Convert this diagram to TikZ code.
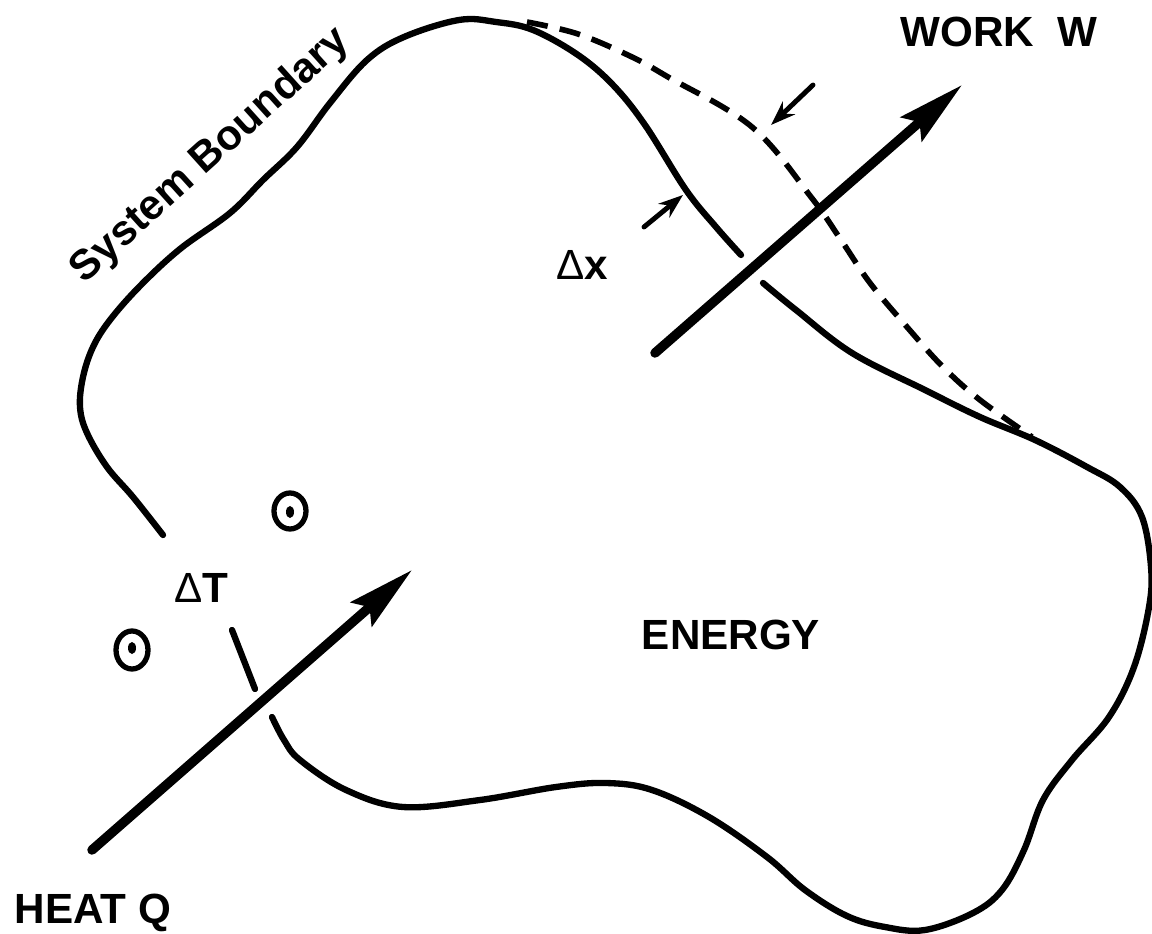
\documentclass[tikz,border=0pt]{standalone}
\usepackage{fontspec}
\setmainfont{Liberation Sans}
\usetikzlibrary{arrows.meta}
\tikzset{
  bnd/.style={line width=1.8pt, line cap=round},
  moved/.style={line width=1.6pt, dash pattern=on 6pt off 3.5pt},
  flow/.style={line width=2.7pt, line cap=round, -{Stealth[length=19pt, width=9pt, inset=3pt]}},
  dxarrow/.style={line width=1.4pt, line cap=round, -{Stealth[length=7pt, width=5pt]}},
  probe/.style={line width=1.5pt},
  lbl/.style={font=\fontsize{12}{14}\selectfont\bfseries, anchor=base}
}
\begin{document}
\begin{tikzpicture}[x=0.01cm, y=-0.01cm]
  \useasboundingbox (0,0) rectangle (1152,934);
  % system boundary, upper part
  \draw[bnd] plot[smooth, tension=0.6] coordinates {(163,535) (133,497) (107,467) (87,433)
    (80,407) (83,377) (93,347) (110,320) (140,286) (180,249) (230,213) (263,180) (297,147)
    (330,103) (367,60) (404,37) (459,20) (496,22) (533,30) (578,55) (613,85) (645,125)
    (686,190) (716,227) (741,255)};
  % system boundary, right and lower part
  \draw[bnd] plot[smooth, tension=0.6] coordinates {(763,283) (796,310) (852,353) (925,390)
    (980,417) (1035,440) (1087,467) (1120,487) (1142,517) (1151,567) (1149,607) (1134,667)
    (1109,717) (1072,760) (1043,800) (1024,850) (1002,890) (973,913) (925,930) (885,927)
    (847,916) (805,890) (767,857) (709,817) (652,790) (606,783) (556,787) (480,800)
    (403,807) (346,790) (300,760) (284,740) (272,717)};
  \draw[bnd] (232,630) -- (255,689);
  % displaced boundary
  \draw[moved] plot[smooth, tension=0.6] coordinates {(527,22) (578,34) (632,57) (668,77)
    (752,127) (811,197) (841,240) (870,283) (907,327) (943,367) (980,400) (1032,437)};
  % temperature probes
  \draw[probe] (290,511) ellipse [x radius=16, y radius=18];
  \fill (290,512) ellipse [x radius=4, y radius=6];
  \draw[probe] (132,650) ellipse [x radius=16, y radius=19];
  \fill (132,648) ellipse [x radius=4, y radius=6];
  % heat and work
  \coordinate (qtail) at (92,850);
  \coordinate (qtip) at (412,570);
  \coordinate (wtail) at (655,353);
  \coordinate (wtip) at (962,85);
  \draw[flow] (qtail) -- (qtip);
  \draw[flow] (wtail) -- (wtip);
  % boundary displacement
  \coordinate (dxa) at (813,85);
  \coordinate (dxb) at (771,125);
  \coordinate (dxc) at (644,227);
  \coordinate (dxd) at (683,195);
  \draw[dxarrow] (dxa) -- (dxb);
  \draw[dxarrow] (dxc) -- (dxd);
  % labels
  \node[lbl] (work) at (999,47) {WORK\ \ W};
  \node[lbl] (heat) at (93,923) {HEAT Q};
  \node[lbl] (energy) at (731,649) {ENERGY};
  \node[lbl] (dT) at (201,602) {{\mdseries Δ}T};
  \node[lbl] (dx) at (582,280) {{\mdseries Δ}x};
  \node[lbl, rotate=42] (sysb) at (218,164) {System Boundary};
\end{tikzpicture}
\end{document}
